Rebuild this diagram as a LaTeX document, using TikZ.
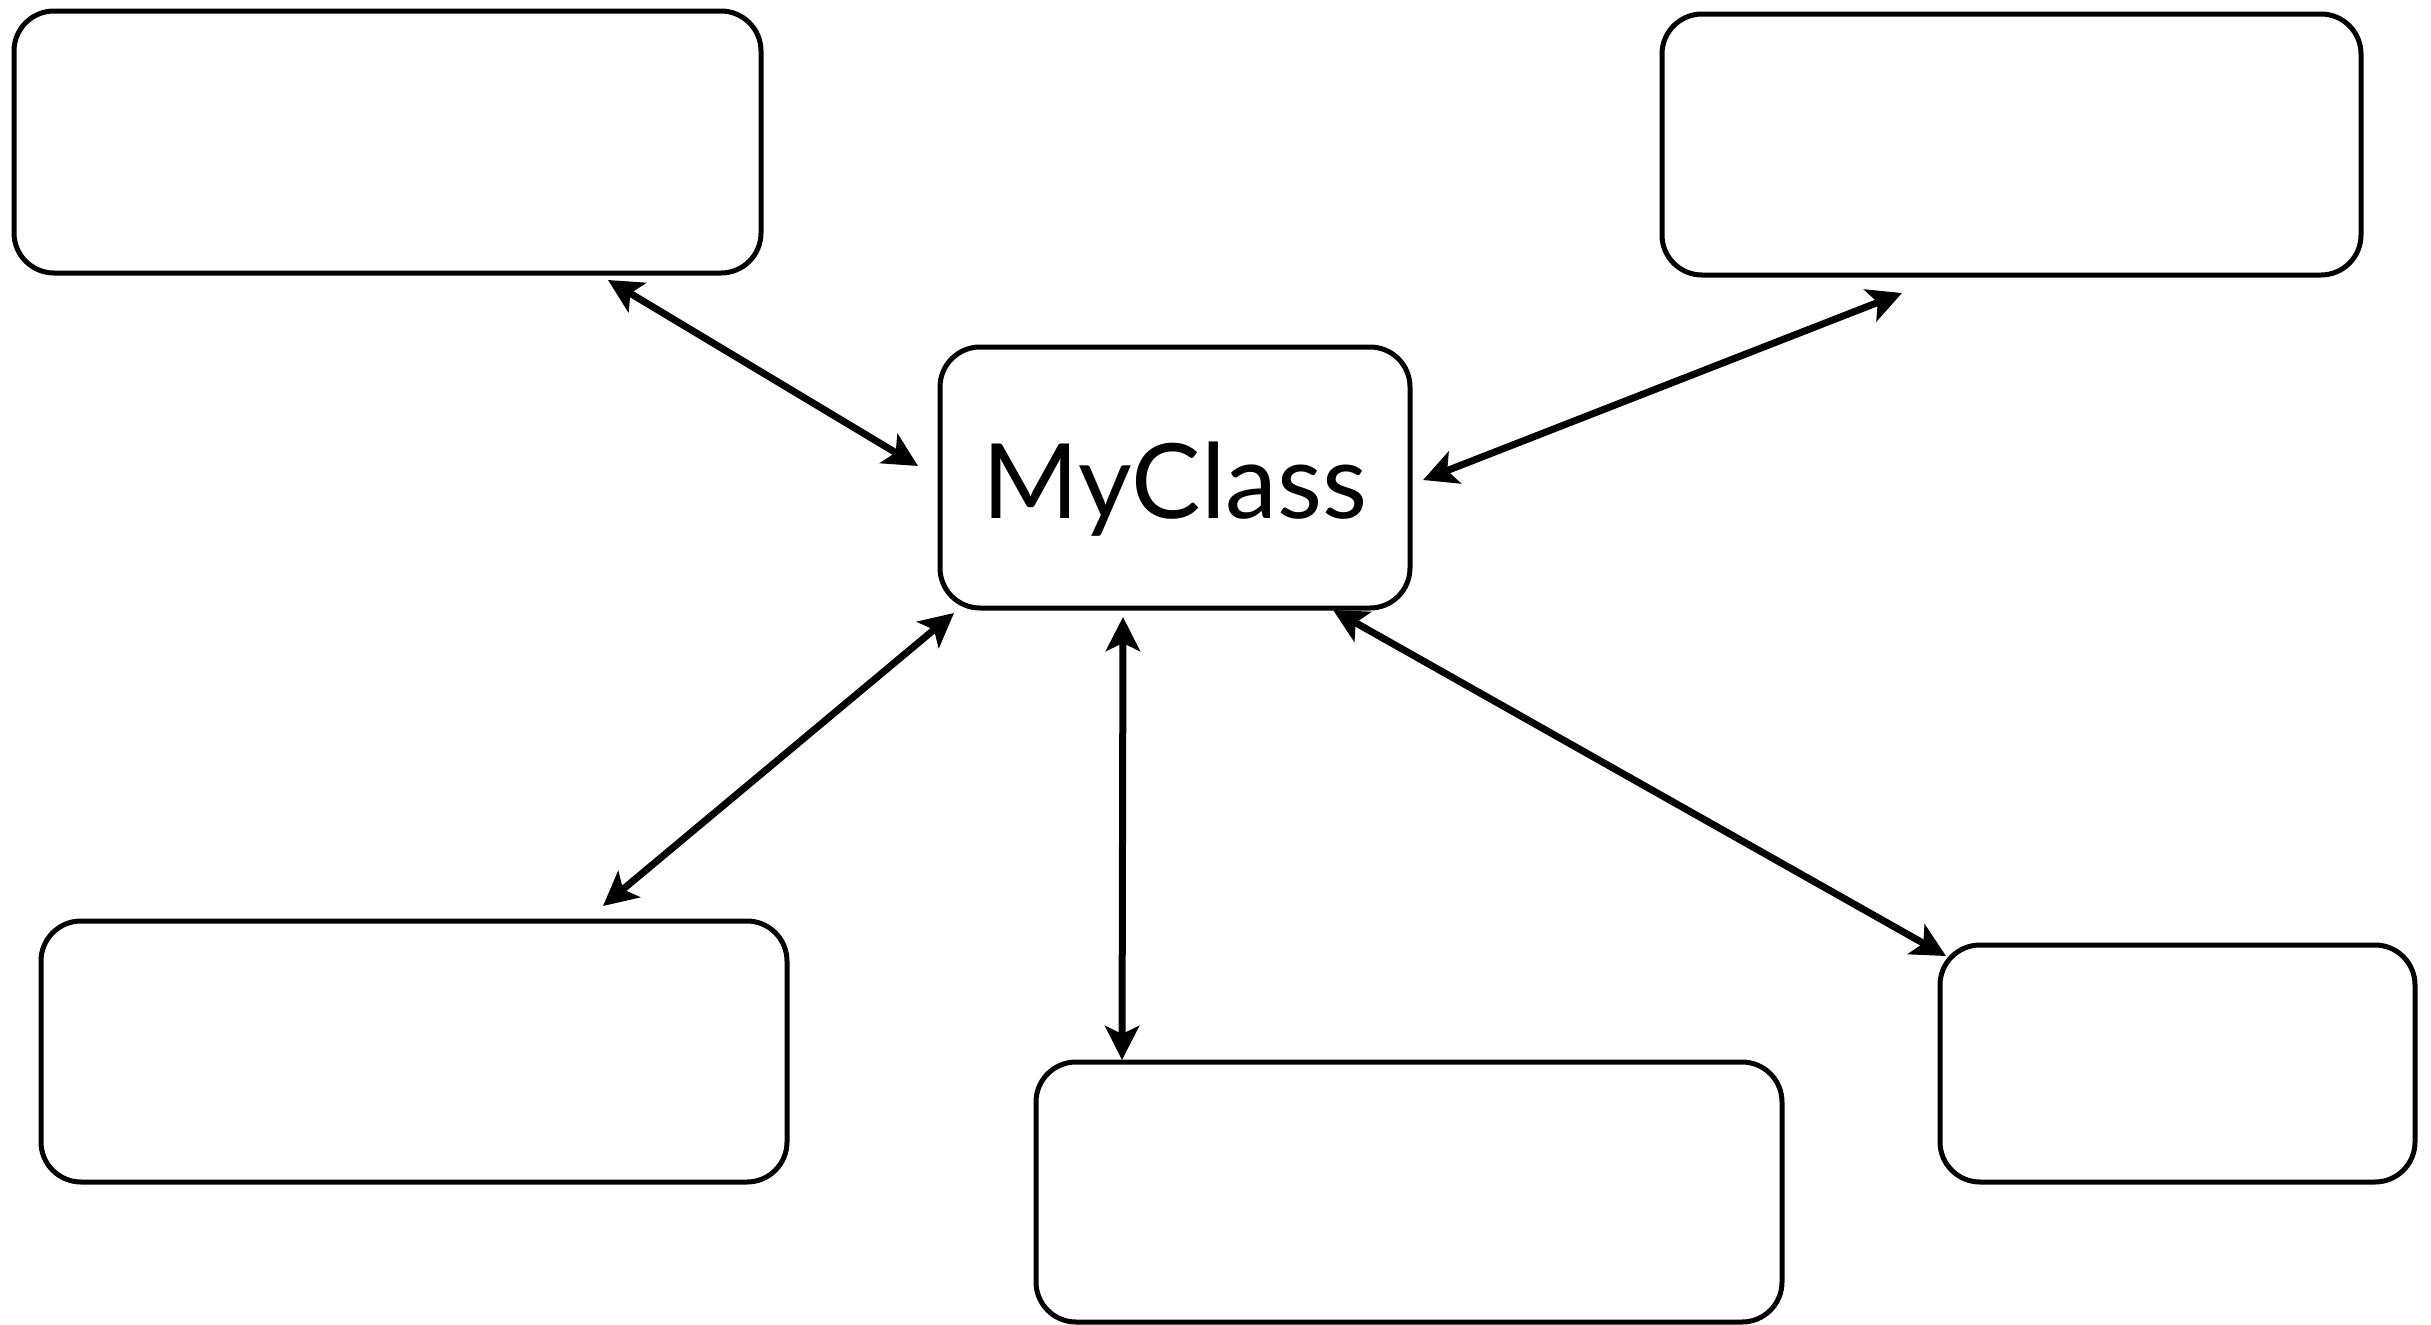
\documentclass[tikz,border=0pt]{standalone}
\usepackage{fontspec}
\setmainfont{Lato}
\usetikzlibrary{arrows.meta}
\tikzset{
  box/.style={draw=black, line width=5pt, rounded corners=40pt, fill=white, inner sep=0pt, outer sep=0pt},
  link/.style={line width=7pt, {Stealth[length=34pt,width=34pt,inset=8pt]}-{Stealth[length=34pt,width=34pt,inset=8pt]}}
}
\begin{document}
\begin{tikzpicture}[x=1pt,y=-1pt]
\useasboundingbox (0,0) rectangle (2431,1325);
% boxes
\node[box, minimum width=747pt, minimum height=262pt] (tl) at (387.5,142) {};
\node[box, minimum width=699pt, minimum height=261pt] (tr) at (2011.5,144.5) {};
\node[box, minimum width=470pt, minimum height=261pt] (c) at (1175,477.5) {};
\node[box, minimum width=746pt, minimum height=261pt] (bl) at (414,1051.5) {};
\node[box, minimum width=746pt, minimum height=260pt] (bm) at (1409,1192) {};
\node[box, minimum width=475pt, minimum height=237pt] (br) at (2177.5,1063.5) {};
\node[anchor=base, inner sep=0pt, font=\fontsize{104}{120}\selectfont] (lbl) at (1175,518) {MyClass};
% arrow end points
\coordinate (a1s) at (608,280);  \coordinate (a1e) at (918,466);
\coordinate (a2s) at (1423,480); \coordinate (a2e) at (1902,293);
\coordinate (a3s) at (603,906);  \coordinate (a3e) at (954,613);
\coordinate (a4s) at (1123,617); \coordinate (a4e) at (1122,1060);
\coordinate (a5s) at (1333,610); \coordinate (a5e) at (1946,956);
\draw[link] (a1s) -- (a1e);
\draw[link] (a2s) -- (a2e);
\draw[link] (a3s) -- (a3e);
\draw[link] (a4s) -- (a4e);
\draw[link] (a5s) -- (a5e);
\end{tikzpicture}
\end{document}
